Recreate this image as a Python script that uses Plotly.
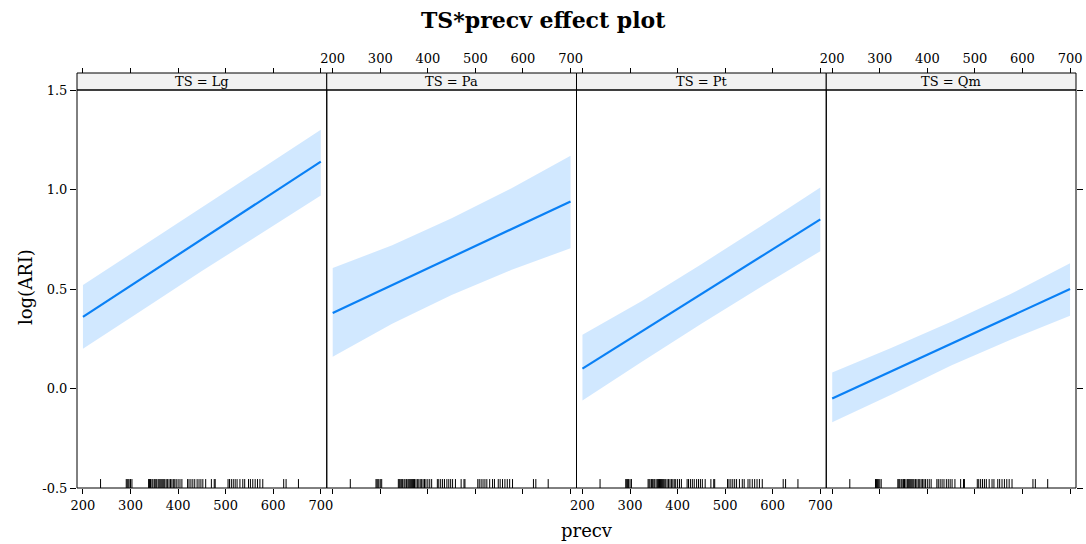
import plotly.graph_objects as go

# ---------------- data ----------------
panels = ["Lg", "Pa", "Pt", "Qm"]
x_eval = [200, 325, 450, 575, 700]

fit_Lg = [0.36, 0.555, 0.75, 0.945, 1.14]
low_Lg = [0.20, 0.395, 0.59, 0.78, 0.97]
up_Lg = [0.52, 0.715, 0.91, 1.105, 1.30]

fit_Pa = [0.38, 0.52, 0.66, 0.80, 0.94]
low_Pa = [0.16, 0.325, 0.47, 0.595, 0.705]
up_Pa = [0.605, 0.72, 0.855, 1.005, 1.17]

fit_Pt = [0.10, 0.2875, 0.475, 0.6625, 0.85]
low_Pt = [-0.06, 0.135, 0.325, 0.51, 0.69]
up_Pt = [0.27, 0.44, 0.625, 0.815, 1.01]

fit_Qm = [-0.05, 0.0875, 0.225, 0.3625, 0.50]
low_Qm = [-0.17, -0.03, 0.115, 0.245, 0.365]
up_Qm = [0.08, 0.205, 0.335, 0.475, 0.63]

fits = {"Lg": fit_Lg, "Pa": fit_Pa, "Pt": fit_Pt, "Qm": fit_Qm}
lows = {"Lg": low_Lg, "Pa": low_Pa, "Pt": low_Pt, "Qm": low_Qm}
ups = {"Lg": up_Lg, "Pa": up_Pa, "Pt": up_Pt, "Qm": up_Qm}

rug_precv = [237,
             291, 293, 295, 297, 300, 303,
             338, 340, 342, 345, 347, 350, 352, 355, 358, 360, 362, 364, 366,
             368, 370, 372, 375, 378, 381, 384, 387, 390, 393, 396, 400, 404, 408,
             420, 423, 427, 431, 435, 440, 444, 448, 452, 458,
             470, 476, 478,
             505, 508, 512, 516, 520, 524, 530, 536, 540, 548, 552, 557, 562,
             567, 572, 578,
             622, 627,
             653]

x_ticks = [200, 300, 400, 500, 600, 700]
x_tick_labels = ["200", "300", "400", "500", "600", "700"]
y_ticks = [-0.5, 0.0, 0.5, 1.0, 1.5]
y_tick_labels = ["-0.5", "0.0", "0.5", "1.0", "1.5"]

# ---------------- style ----------------
FONT = "DejaVu Serif"
LINE = "#0a80f5"
BAND = "rgba(0,128,255,0.18)"
X_RANGE = [187.5, 712.5]
Y_RANGE = [-0.5, 1.5]
RUG_H = 0.045
W, H = 1086, 544
ML, MR, MT, MB = 77, 10, 73, 56
PW, PH = W - ML - MR, H - MT - MB
YTOP = (H - MB - 90) / PH  # top of data region (strip bottom)

def px_x(px):
    return (px - ML) / PW

def px_y(py):
    return (H - MB - py) / PH

fig = go.Figure()
for i, p in enumerate(panels):
    xa = "x" if i == 0 else f"x{i+1}"
    fig.add_trace(go.Scatter(
        x=x_eval + x_eval[::-1], y=ups[p] + lows[p][::-1],
        fill="toself", fillcolor=BAND, line=dict(width=0), mode="lines",
        hoverinfo="skip", showlegend=False, xaxis=xa, yaxis="y"))
    fig.add_trace(go.Scatter(
        x=x_eval, y=fits[p], mode="lines", line=dict(color=LINE, width=2.2),
        showlegend=False, xaxis=xa, yaxis="y"))
    rx, ry = [], []
    for v in rug_precv:
        rx += [v, v, None]
        ry += [Y_RANGE[0], Y_RANGE[0] + RUG_H, None]
    fig.add_trace(go.Scatter(
        x=rx, y=ry, mode="lines", line=dict(color="black", width=1),
        showlegend=False, hoverinfo="skip", xaxis=xa, yaxis="y"))
    # invisible trace so the top (overlaying) axis of the panel is drawn
    fig.add_trace(go.Scatter(
        x=x_eval, y=fits[p], mode="lines", line=dict(width=0), opacity=0,
        showlegend=False, hoverinfo="skip", xaxis=f"x{i+5}", yaxis="y"))
# invisible trace for the right-hand y axis
fig.add_trace(go.Scatter(
    x=x_eval, y=fit_Qm, mode="lines", line=dict(width=0), opacity=0,
    showlegend=False, hoverinfo="skip", xaxis="x4", yaxis="y2"))

tickfont = dict(family=FONT, size=13, color="black")
layout = dict(
    width=W, height=H, margin=dict(l=ML, r=MR, t=MT, b=MB, autoexpand=False),
    paper_bgcolor="white", plot_bgcolor="white", showlegend=False,
    font=dict(family=FONT, color="black"),
)
for i in range(4):
    key = "xaxis" if i == 0 else f"xaxis{i+1}"
    layout[key] = dict(
        domain=[i / 4, (i + 1) / 4], range=X_RANGE, anchor="y",
        tickvals=x_ticks, ticktext=x_tick_labels, ticks="outside",
        ticklen=5, tickwidth=1, tickcolor="black", automargin=False,
        showticklabels=(i in (0, 2)), showgrid=False, zeroline=False,
        showline=False, tickfont=tickfont)
    layout[f"xaxis{i+5}"] = dict(
        overlaying="x" if i == 0 else f"x{i+1}", side="top", anchor="free",
        position=1, range=X_RANGE, tickvals=x_ticks, ticktext=x_tick_labels,
        ticks="outside", ticklen=5, tickwidth=1, tickcolor="black",
        automargin=False,
        showticklabels=(i in (1, 3)), showgrid=False, zeroline=False,
        showline=False, tickfont=tickfont)
layout["yaxis"] = dict(
    domain=[0, YTOP], range=Y_RANGE, anchor="x", tickvals=y_ticks,
    ticktext=y_tick_labels, ticks="outside", ticklen=6, tickwidth=1,
    tickcolor="black", showgrid=False, zeroline=False, showline=False,
    automargin=False, tickfont=tickfont)
layout["yaxis2"] = dict(
    overlaying="y", side="right", anchor="free", position=1, range=Y_RANGE,
    tickvals=y_ticks, ticks="outside", ticklen=6, tickwidth=1,
    tickcolor="black", showticklabels=False, showgrid=False, zeroline=False,
    automargin=False, showline=False)
fig.update_layout(**layout)

shapes = []
annotations = []
for i, p in enumerate(panels):
    shapes.append(dict(type="rect", xref="paper", yref="paper",
                       x0=i / 4, x1=(i + 1) / 4, y0=YTOP, y1=1,
                       fillcolor="#f2f2f2", line=dict(color="black", width=1),
                       layer="below"))
    shapes.append(dict(type="rect", xref="paper", yref="paper",
                       x0=i / 4, x1=(i + 1) / 4, y0=0, y1=YTOP,
                       line=dict(color="black", width=1), layer="above"))
    annotations.append(dict(text=f"TS = {p}", xref="paper", yref="paper",
                            x=(i + 0.5) / 4, y=(YTOP + 1) / 2,
                            xanchor="center", yanchor="middle",
                            showarrow=False,
                            font=dict(family=FONT, size=13, color="black")))

annotations.append(dict(text="<b>TS*precv effect plot</b>", xref="paper",
                        yref="paper", x=px_x(543), y=px_y(20),
                        xanchor="center", yanchor="middle", showarrow=False,
                        font=dict(family=FONT, size=22, color="black")))
annotations.append(dict(text="precv", xref="paper", yref="paper",
                        x=px_x(587), y=px_y(530), xanchor="center",
                        yanchor="middle", showarrow=False,
                        font=dict(family=FONT, size=18, color="black")))
annotations.append(dict(text="log(ARI)", xref="paper", yref="paper",
                        x=px_x(25), y=px_y(287), xanchor="center",
                        yanchor="middle", textangle=-90, showarrow=False,
                        font=dict(family=FONT, size=18, color="black")))
fig.update_layout(shapes=shapes, annotations=annotations)

fig.write_html("out.html",
               config={"displayModeBar": False},
               post_script="document.body.style.margin='0';"
                           "document.body.style.overflow='hidden';")
